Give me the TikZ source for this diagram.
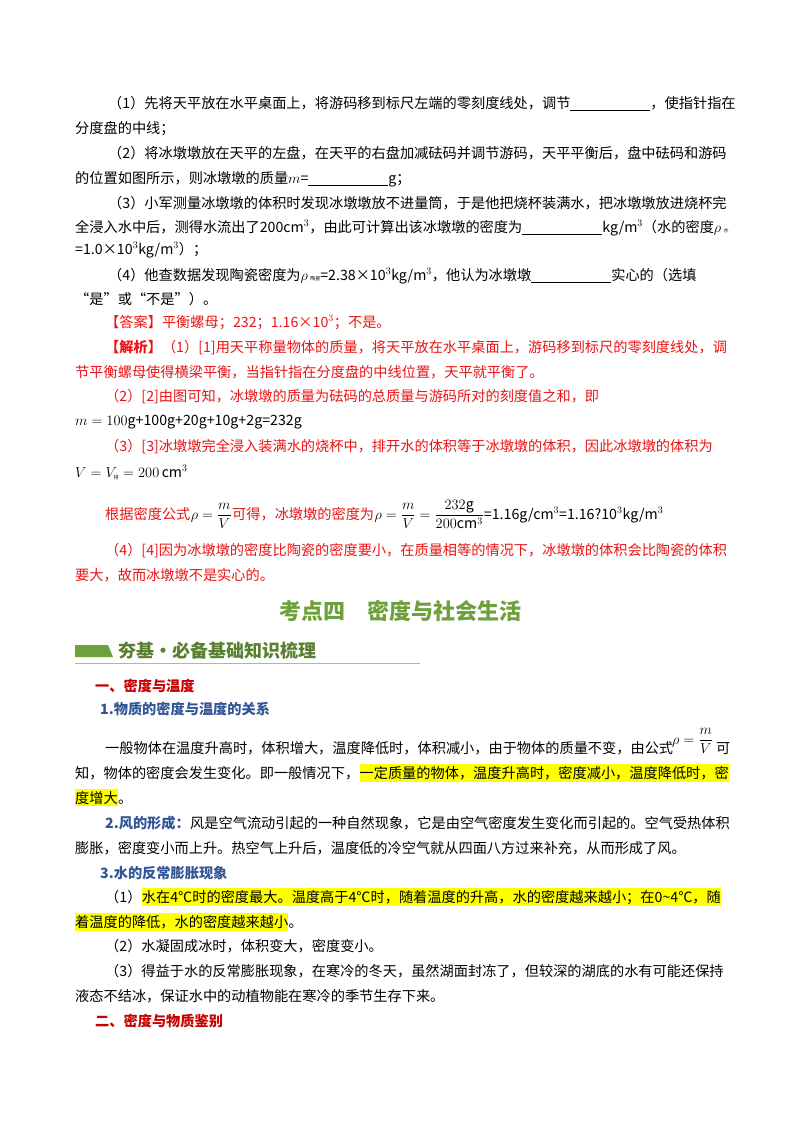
\documentclass[tikz,border=0pt]{standalone}
\usepackage{amsmath}
\usepackage{fontspec}
\setmainfont{Noto Sans CJK SC}
\usetikzlibrary{positioning}
\definecolor{ansred}{RGB}{235,20,20}
\definecolor{headred}{RGB}{200,0,0}
\definecolor{headblue}{RGB}{50,85,150}
\definecolor{titlegreen}{RGB}{110,160,60}
\definecolor{hlyellow}{RGB}{255,255,0}
\newcommand{\blankline}[1]{\underline{\hspace{#1pt}}}
\newcommand{\bodysize}{\fontsize{14.2}{17}\selectfont}

\begin{document}
\begin{tikzpicture}[x=1pt,y=-1pt]
	\tikzset{txt/.style={anchor=base west,inner sep=0pt,font=\bodysize},
	         nxt/.style={txt,anchor=base west},
	         hl/.style={txt,fill=hlyellow,inner ysep=2pt},
	         ans/.style={txt,text=ansred},
	         rhead/.style={txt,text=headred,font=\bodysize\bfseries},
	         bhead/.style={txt,text=headblue,font=\bodysize\bfseries}}

	\useasboundingbox[fill=white] (0,0) rectangle (800,1132);

	% question part
	\node[txt] (q1a) at (108,108) {（1）先将天平放在水平桌面上，将游码移到标尺左端的零刻度线处，调节\blankline{80}，使指针指在};
	\node[txt] (q1b) at (75,133) {分度盘的中线；};
	\node[txt] (q2a) at (108,158) {（2）将冰墩墩放在天平的左盘，在天平的右盘加减砝码并调节游码，天平平衡后，盘中砝码和游码};
	\node[txt] (q2b) at (75,183) {的位置如图所示，则冰墩墩的质量$m$=\blankline{80}g；};
	\node[txt] (q3a) at (108,208) {（3）小军测量冰墩墩的体积时发现冰墩墩放不进量筒，于是他把烧杯装满水，把冰墩墩放进烧杯完};
	\node[txt] (q3b) at (75,232) {全浸入水中后，测得水流出了200cm$^3$，由此可计算出该冰墩墩的密度为\blankline{80}kg/m$^3$（水的密度$\rho$\,{\tiny 水}};
	\node[txt] (q3c) at (75,254) {=1.0×10$^3$kg/m$^3$）；};
	\node[txt] (q4a) at (108,280) {（4）他查数据发现陶瓷密度为$\rho$\,{\tiny 陶瓷}=2.38×10$^3$kg/m$^3$，他认为冰墩墩\blankline{80}实心的（选填};
	\node[txt] (q4b) at (75,304) {“是”或“不是”）。};

	% answer part
	\node[ans] (ans) at (105,327) {【答案】平衡螺母；232；1.16×10$^3$；不是。};
	\node[ans] (an1a) at (105,352) {{\bfseries 【解析】}（1）[1]用天平称量物体的质量，将天平放在水平桌面上，游码移到标尺的零刻度线处，调};
	\node[ans] (an1b) at (75,377) {节平衡螺母使得横梁平衡，当指针指在分度盘的中线位置，天平就平衡了。};
	\node[ans] (an2a) at (105,401) {（2）[2]由图可知，冰墩墩的质量为砝码的总质量与游码所对的刻度值之和，即};
	\node[txt] (an2b) at (75,425) {$m=100$g+100g+20g+10g+2g=232g};
	\node[ans] (an3a) at (105,451) {（3）[3]冰墩墩完全浸入装满水的烧杯中，排开水的体积等于冰墩墩的体积，因此冰墩墩的体积为};
	\node[txt] (an3b) at (75,477) {$V=V_{\mbox{\tiny 排}}=200\,\mathrm{cm}^3$};
	\node[ans] (an3c) at (105,519) {根据密度公式};
	\node[nxt] (an3d) at (an3c.base east) {$\rho=\dfrac{m}{V}$};
	\node[ans] (an3e) at (an3d.base east) {可得，冰墩墩的密度为};
	\node[nxt] (an3f) at (an3e.base east) {$\rho=\dfrac{m}{V}=\dfrac{232\mathrm{g}}{200\mathrm{cm}^3}$=1.16g/cm$^3$=1.16?10$^3$kg/m$^3$};
	\node[ans] (an4a) at (105,555) {（4）[4]因为冰墩墩的密度比陶瓷的密度要小，在质量相等的情况下，冰墩墩的体积会比陶瓷的体积};
	\node[ans] (an4b) at (75,580) {要大，故而冰墩墩不是实心的。};

	% section title and banner
	\node[anchor=base,inner sep=0pt,text=titlegreen,font=\fontsize{22}{26}\selectfont\bfseries] (title) at (400,619) {考点四\quad 密度与社会生活};
	\fill[titlegreen] (75,645) -- (108,645) -- (113,657) -- (75,657) -- cycle;
	\node[txt,text=titlegreen!80!black,font=\fontsize{18}{20}\selectfont\bfseries] (banner) at (118,657) {夯基·必备基础知识梳理};
	\draw[gray!60,line width=1pt] (75,663) -- (420,663);

	% body text
	\node[rhead] (h1) at (95,691) {一、密度与温度};
	\node[bhead] (h11) at (100,714) {1.物质的密度与温度的关系};
	\node[txt] (p1a) at (105,753) {一般物体在温度升高时，体积增大，温度降低时，体积减小，由于物体的质量不变，由公式};
	\node[txt] (p1f) at (672,744) {$\rho=\dfrac{m}{V}$};
	\node[txt] (p1g) at (716,753) {可};
	\node[txt] (p1b) at (75,778) {知，物体的密度会发生变化。即一般情况下，};
	\node[hl] (p1c) at (p1b.base east) {一定质量的物体，温度升高时，密度减小，温度降低时，密};
	\node[hl] (p1d) at (75,803) {度增大};
	\node[nxt] (p1e) at (p1d.base east) {。};
	\node[bhead] (p2h) at (105,828) {2.风的形成：};
	\node[nxt] (p2a) at (p2h.base east) {风是空气流动引起的一种自然现象，它是由空气密度发生变化而引起的。空气受热体积};
	\node[txt] (p2b) at (75,853) {膨胀，密度变小而上升。热空气上升后，温度低的冷空气就从四面八方过来补充，从而形成了风。};
	\node[bhead] (h13) at (100,878) {3.水的反常膨胀现象};
	\node[txt] (p3n) at (105,902) {（1）};
	\node[hl] (p3a) at (p3n.base east) {水在4℃时的密度最大。温度高于4℃时，随着温度的升高，水的密度越来越小；在0\textasciitilde 4℃，随};
	\node[hl] (p3b) at (75,927) {着温度的降低，水的密度越来越小};
	\node[nxt] (p3c) at (p3b.base east) {。};
	\node[txt] (p4) at (105,951) {（2）水凝固成冰时，体积变大，密度变小。};
	\node[txt] (p5a) at (105,976) {（3）得益于水的反常膨胀现象，在寒冷的冬天，虽然湖面封冻了，但较深的湖底的水有可能还保持};
	\node[txt] (p5b) at (75,1001) {液态不结冰，保证水中的动植物能在寒冷的季节生存下来。};
	\node[rhead] (h2) at (95,1026) {二、密度与物质鉴别};
\end{tikzpicture}
\end{document}
